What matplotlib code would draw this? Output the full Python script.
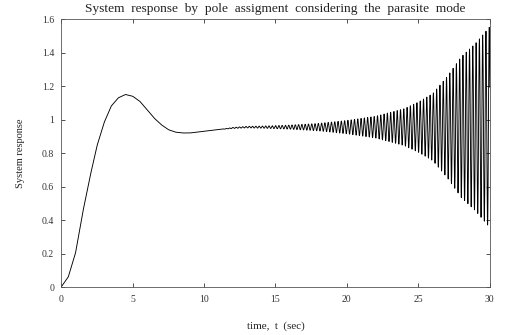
import numpy as np
import matplotlib
matplotlib.use("Agg")
import matplotlib.pyplot as plt

plt.rcParams['font.family'] = ['Liberation Serif', 'DejaVu Serif']

# Slow (dominant) part of the response
t_slow = [0, 0.5, 1, 1.5, 2, 2.5, 3, 3.5, 4, 4.5, 5, 5.5, 6, 6.5, 7, 7.5, 8, 8.5,
          9, 9.5, 10, 11, 12, 13, 14, 15, 18, 20, 22, 24, 26, 28, 30]
y_slow = [0, 0.06, 0.20, 0.44, 0.65, 0.84, 0.98, 1.08, 1.13, 1.15, 1.14, 1.11, 1.06,
          1.01, 0.97, 0.94, 0.925, 0.92, 0.92, 0.925, 0.93, 0.94, 0.95, 0.955, 0.955,
          0.955, 0.955, 0.955, 0.955, 0.955, 0.955, 0.955, 0.955]

# Amplitude of the growing parasite-mode oscillation
t_env = [0, 11, 12, 14, 16, 18, 20, 22, 24, 25, 26, 27, 28, 29, 30]
a_env = [0, 0, 0.003, 0.006, 0.012, 0.022, 0.04, 0.065, 0.11, 0.15, 0.20, 0.30, 0.42, 0.50, 0.60]
osc_period = 0.23  # seconds

x_ticks = [0, 5, 10, 15, 20, 25, 30]
y_ticks = [0, 0.2, 0.4, 0.6, 0.8, 1.0, 1.2, 1.4, 1.6]
y_ticklabels = ['0', '0.2', '0.4', '0.6', '0.8', '1', '1.2', '1.4', '1.6']

t = np.linspace(0, 30, 12000)
y = np.interp(t, t_slow, y_slow) + np.interp(t, t_env, a_env) * np.sin(2 * np.pi * t / osc_period)

fig = plt.figure(figsize=(5.05, 3.35), dpi=100)
ax = fig.add_axes([0.121, 0.143, 0.849, 0.80])
ax.plot(t, y, color='black', lw=0.65)
ax.set_xlim(0, 30)
ax.set_ylim(0, 1.6)
ax.set_xticks(x_ticks)
ax.set_yticks(y_ticks)
ax.set_yticklabels(y_ticklabels)
ax.tick_params(direction='in', top=True, right=True, length=3, width=0.6,
               labelsize=7, colors='#333333')
ax.tick_params(axis='x', pad=6)
ax.tick_params(axis='y', pad=5)
for s in ax.spines.values():
    s.set_linewidth(0.6)
    s.set_color('#555555')
ax.set_title('System  response  by  pole  assigment  considering  the  parasite  mode',
             fontsize=9.6, pad=5, color='#222222')
ax.set_xlabel('time,  t  (sec)', fontsize=8, labelpad=12, color='#222222')
ax.set_ylabel('System response', fontsize=7.5, labelpad=12, color='#222222')

fig.savefig('out.png', dpi=100)
